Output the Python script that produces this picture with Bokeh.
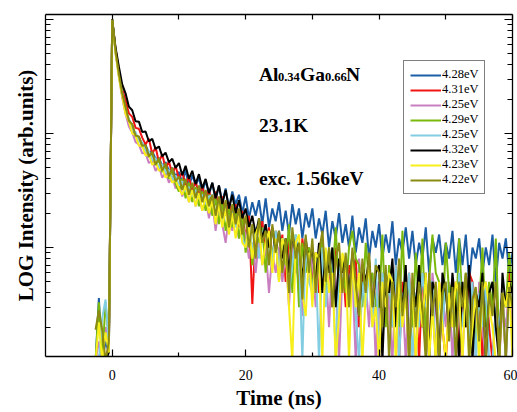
import numpy as np
from bokeh.plotting import figure
from bokeh.models import (Range1d, FixedTicker, LinearAxis, LogAxis, Label, Title,
                          Legend, LegendItem, CustomJSTickFormatter)
from bokeh.embed import file_html
from bokeh.resources import INLINE

# ---------------- data ----------------
T_START = -2.5   # ns, first sample
T_STEP = 0.5     # ns, sampling step

LABELS = ["4.28eV", "4.31eV", "4.25eV", "4.29eV", "4.25eV", "4.32eV", "4.23eV", "4.22eV"]

BLUE = [1, 3.6, 1, 1.5, 1.2,
        1000, 525, 330, 215, 165, 126, 116, 95, 93, 80,
        79, 68, 70, 60, 61, 52, 56, 47, 50, 42,
        46, 37, 48, 34, 43, 35, 41, 30, 39, 29,
        37, 26, 35, 25, 33, 22, 31, 24, 29, 20,
        28, 18, 25, 19, 26, 16, 27, 15, 22, 17,
        25, 14, 21, 13, 24, 16, 22, 12, 20, 15,
        22, 12, 18, 13, 21, 10, 17, 12, 20, 11,
        16, 10, 19, 9, 15, 11, 18, 8, 14, 10,
        16, 8, 13, 9, 17, 7, 12, 9, 15, 8,
        14, 7, 11, 8, 15, 6, 12, 9, 13, 7,
        11, 8, 14, 6, 12, 7, 13, 5, 10, 8,
        12, 6, 10, 7, 13, 5, 11, 8, 12, 6,
        9]
RED = [1, 1, 1.6, 1, 1.4,
       1000, 550, 365, 245, 195, 150, 140, 112, 110, 92,
       80, 90, 66, 76, 56, 66, 49, 57, 44, 52,
       40, 46, 35, 42, 31, 39, 28, 35, 26, 32,
       24, 31, 21, 28, 19, 25, 17, 24, 15, 21,
       12, 19, 3.2, 14, 10, 17, 9, 15, 8, 14,
       7, 13, 5, 12, 8, 11, 4, 12, 7, 10,
       5, 9, 4, 11, 6, 8, 3, 10, 5, 8,
       3, 7, 5, 8, 2, 6, 4, 7, 3, 6,
       1, 6, 3, 5, 2, 7, 1, 5, 3, 6,
       2, 4, 1, 6, 3, 5, 4, 1, 5, 2,
       1, 3, 2, 5, 1, 4, 2, 6, 5, 3,
       4, 1, 5, 2, 1, 3, 2, 4, 1, 6,
       3]
PINK = [1, 1.5, 1, 2, 1.3,
        1000, 510, 315, 205, 148, 115, 102, 84, 80, 67,
        67, 55, 58, 47, 52, 41, 46, 37, 42, 33,
        37, 28, 35, 25, 32, 23, 30, 21, 27, 18,
        25, 14, 23, 16, 11, 19, 14, 18, 12, 16,
        13, 8, 11, 6, 12, 7, 10, 4, 9, 6,
        10, 5, 9, 3, 11, 6, 8, 2.5, 10, 5,
        8, 3, 9, 4, 7, 2, 8, 5, 1, 6,
        7, 3, 6, 1, 8, 4, 5, 2, 6, 1,
        5, 2, 6, 3, 1, 5, 2, 4, 1, 5,
        3, 1, 5, 2, 4, 1, 6, 3, 1, 4,
        2, 5, 1, 4, 3, 1, 5, 2, 4, 1,
        5, 2, 1, 4, 3, 5, 1, 3, 2, 4,
        2]
GREEN = [1, 3.3, 1, 3.3, 1.5,
         1000, 525, 335, 220, 170, 128, 120, 94, 93, 76,
         77, 62, 67, 53, 59, 46, 52, 40, 47, 36,
         31, 40, 27, 37, 25, 34, 23, 31, 21, 29,
         19, 27, 16, 25, 14, 22, 15, 21, 12, 19,
         9, 16, 7, 14, 11, 15, 6, 13, 8, 14,
         5, 12, 7, 16, 4, 13, 3, 11, 6, 10,
         4, 9, 6, 13, 3.5, 10, 5, 15, 4, 8,
         4, 10, 14, 8, 7, 3, 11, 5, 6, 3,
         3, 13, 2, 7, 4, 6, 2, 14, 3, 5,
         2, 9, 3, 12, 1.5, 5, 13, 6, 5, 2,
         11, 4, 5, 2, 12, 3, 6, 2, 4, 1.5,
         3, 10, 2, 5, 3, 12, 1.5, 4, 3, 9,
         4]
CYAN = [1, 1, 2.4, 3.5, 1.4,
        1000, 520, 325, 226, 158, 135, 108, 103, 85, 84,
        70, 70, 58, 61, 50, 54, 45, 48, 39, 43,
        35, 38, 31, 34, 28, 32, 27, 29, 24, 28,
        29, 19, 26, 17, 23, 14, 22, 15, 20, 12,
        10, 16, 9, 15, 8, 13, 16, 7, 8, 14,
        6, 12, 11, 4, 7, 13, 9, 1, 11, 5,
        4, 8, 1, 10, 3, 7, 9, 1, 7, 5,
        8, 4, 7, 2.5, 1, 5, 3, 6, 2, 8,
        1, 6, 3, 5, 2, 7, 1, 4, 3, 6,
        1, 4, 2, 6, 3, 5, 5, 1, 4, 2,
        5, 3, 4, 1, 6, 2, 4, 1.5, 5, 1,
        4, 2, 5, 1, 1, 3, 2, 4, 1, 5,
        3]
BLACK = [1, 1, 1, 1, 1.2,
         1000, 570, 385, 270, 225, 172, 160, 128, 127, 103,
         104, 85, 90, 73, 77, 63, 68, 56, 60, 50,
         55, 43, 52, 40, 47, 36, 44, 33, 40, 30,
         37, 27, 35, 24, 32, 22, 29, 20, 26, 18,
         22, 15, 19, 13, 18, 12, 16, 10, 15, 9,
         14, 8, 12, 6, 13, 9, 11, 5, 12, 7,
         10, 5, 11, 4, 9, 6, 10, 3, 8, 6,
         8, 4, 9, 5, 2.5, 7, 5, 8, 3, 6,
         7, 1, 6, 4, 8, 2, 5, 3, 7, 1,
         5, 3, 7, 2, 6, 1, 5, 4, 1, 6,
         4, 2, 6, 3, 1, 5, 2, 7, 1, 4,
         3, 6, 1, 4, 5, 2, 1, 6, 3, 5,
         4]
YELLOW = [1, 2.2, 1, 1.8, 1.2,
          990, 505, 310, 212, 148, 128, 100, 96, 78, 78,
          64, 66, 53, 57, 47, 50, 41, 44, 37, 39,
          33, 29, 35, 25, 32, 23, 30, 21, 28, 20,
          26, 16, 24, 15, 22, 13, 20, 12, 19, 11,
          10, 15, 8, 13, 16, 7, 11, 14, 6, 12,
          5, 12, 10, 3, 1, 11, 13, 4, 2.5, 9,
          3, 9, 8, 1, 10, 4, 6, 1, 2.5, 9,
          7, 1, 8, 3, 6, 1, 4, 7, 2, 3,
          1, 5, 3, 6, 5, 1, 6, 2, 4, 1,
          5, 1, 4, 2, 6, 1, 3, 1, 5, 2,
          1, 4, 2, 5, 4, 1, 5, 1, 2, 4,
          1, 4, 5, 3, 2, 1, 1, 4, 3, 5,
          1]
OLIVE = [1.9, 2.8, 1.9, 1, 1.5,
         1000, 530, 335, 225, 170, 130, 120, 96, 94, 78,
         79, 63, 69, 53, 61, 47, 55, 42, 50, 38,
         42, 32, 40, 29, 37, 27, 35, 25, 32, 23,
         29, 19, 28, 18, 26, 15, 24, 16, 22, 13,
         19, 10, 16, 8, 18, 11, 14, 7, 16, 9,
         14, 6, 12, 4, 15, 8, 11, 3.5, 13, 6,
         12, 4, 9, 14, 5, 10, 3, 8, 11, 4,
         9, 3, 10, 5, 2.5, 8, 4, 9, 3, 7,
         6, 2, 7, 1, 5, 3, 8, 2.5, 5, 1,
         6, 2, 5, 3, 1, 6, 2.5, 5, 1, 4,
         5, 1.5, 4.5, 1, 5, 3, 6, 1, 3.5, 4.5,
         1.5, 5, 1, 4, 2.5, 5, 1, 4, 1, 4.5,
         3]

SERIES = [BLUE, RED, PINK, GREEN, CYAN, BLACK, YELLOW, OLIVE]
COLORS = ["#1b5ea6", "#f01414", "#c97ec0", "#7ab80c", "#82cde2",
          "#000000", "#f7ee1a", "#8b8a13"]

# ---------------- figure ----------------
SERIF = "Liberation Serif"

p = figure(width=517, height=412,
           x_range=Range1d(-10, 60), y_range=Range1d(1.106, 1106),
           y_axis_type="log", output_backend="svg", toolbar_location=None,
           min_border_left=45, min_border_right=5,
           min_border_top=14, min_border_bottom=56)
p.xgrid.visible = False
p.ygrid.visible = False
p.outline_line_color = None
p.background_fill_color = "white"
p.border_fill_color = "white"

empty_fmt = CustomJSTickFormatter(code="return ''")

x_ticks = dict(ticks=[0, 20, 40, 60], minor_ticks=[10, 30, 50])
y_major = [1, 10, 100, 1000]
y_minor = [m * d for d in (1, 10, 100) for m in range(2, 10)]


def style_axis(ax, major_in, minor_in):
    ax.major_tick_in = major_in
    ax.major_tick_out = 0
    ax.minor_tick_in = minor_in
    ax.minor_tick_out = 0
    ax.axis_line_color = "black"
    ax.axis_line_width = 1.3
    ax.major_tick_line_color = "black"
    ax.minor_tick_line_color = "black"
    ax.major_tick_line_width = 1.2
    ax.minor_tick_line_width = 1.2


# bottom axis
xa = p.xaxis[0]
xa.ticker = FixedTicker(**x_ticks)
style_axis(xa, 7, 4)
xa.major_label_text_font = SERIF
xa.major_label_text_font_size = "14px"
xa.major_label_text_color = "black"
xa.major_label_standoff = 13

# x-axis title (centred a little right of the frame centre, as in the original)
p.add_layout(Title(text="Time (ns)", align="center", offset=12, standoff=3,
                   text_font=SERIF, text_font_style="bold", text_font_size="21px",
                   text_color="black"), "below")

# left axis
ya = p.yaxis[0]
ya.ticker = FixedTicker(ticks=y_major, minor_ticks=y_minor)
style_axis(ya, 8, 5)
ya.formatter = empty_fmt
ya.major_label_standoff = 0
ya.axis_label = "LOG Intensity (arb.units)"
ya.axis_label_text_font = SERIF
ya.axis_label_text_font_style = "bold"
ya.axis_label_text_font_size = "21px"
ya.axis_label_text_color = "black"
ya.axis_label_standoff = 8

# top axis
top = LinearAxis(ticker=FixedTicker(**x_ticks), formatter=empty_fmt)
style_axis(top, 5, 5)
top.major_label_standoff = 0
p.add_layout(top, "above")

# right axis
right = LogAxis(ticker=FixedTicker(ticks=y_major, minor_ticks=y_minor), formatter=empty_fmt)
style_axis(right, 8, 5)
right.major_label_standoff = 0
p.add_layout(right, "right")

# ---------------- traces ----------------
items = []
for vals, col, lab in zip(SERIES, COLORS, LABELS):
    t = np.round(T_START + T_STEP * np.arange(len(vals)), 3)
    r = p.line(t, vals, line_color=col, line_width=2)
    items.append(LegendItem(label=lab, renderers=[r]))

legend = Legend(items=items, location=(358, 162))
legend.border_line_color = "black"
legend.border_line_width = 1
legend.background_fill_color = "white"
legend.background_fill_alpha = 1
legend.label_text_font = SERIF
legend.label_text_font_size = "12.5px"
legend.label_text_line_height = 1.0
legend.label_text_color = "black"
legend.glyph_width = 31
legend.glyph_height = 14
legend.label_height = 14
legend.label_standoff = 1
legend.spacing = -1
legend.padding = 6
legend.margin = 0
p.add_layout(legend, "center")

# ---------------- annotations ----------------
AX, AY = 22, 329.6   # anchor of the sample text block (data coords)


def lab(text, dx, dy, size="19.5px"):
    p.add_layout(Label(x=AX, y=AY, x_offset=dx, y_offset=dy, text=text,
                       text_font=SERIF, text_font_style="bold",
                       text_font_size=size, text_color="black",
                       text_align="left", text_baseline="alphabetic"))


lab("Al", 0, 0)
lab("0.34", 19, -3, "12.5px")
lab("Ga", 41, 0)
lab("0.66", 66, -3, "12.5px")
lab("N", 87, 0)
lab("23.1K", 0, -51)
lab("exc. 1.56keV", 0, -104)

open("out.html", "w").write(file_html(p, INLINE))
